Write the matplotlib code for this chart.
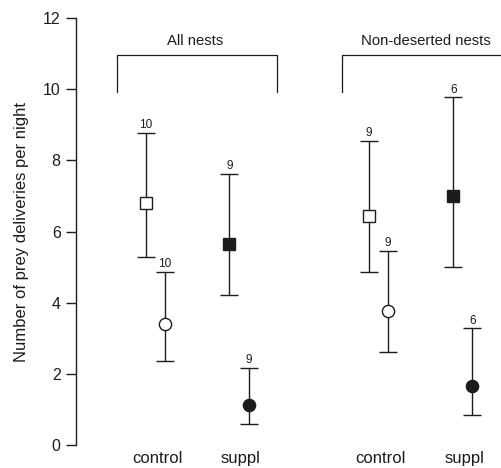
import matplotlib
matplotlib.use("Agg")
import matplotlib.pyplot as plt

plt.rcParams['font.family'] = ['Liberation Sans', 'DejaVu Sans']

# ---- data ----
groups = ["All nests", "Non-deserted nests"]
categories = ["control", "suppl", "control", "suppl"]

# square markers (first measure) per category
sq_mean = [6.81, 5.65, 6.43, 6.99]
sq_upper = [8.78, 7.61, 8.55, 9.77]
sq_lower = [5.27, 4.21, 4.85, 5.01]
sq_n = ["10", "9", "9", "6"]

# circle markers (second measure) per category
ci_mean = [3.40, 1.12, 3.77, 1.66]
ci_upper = [4.87, 2.16, 5.46, 3.28]
ci_lower = [2.36, 0.58, 2.61, 0.84]
ci_n = ["10", "9", "9", "6"]

filled = [False, True, False, True]

yticks = [0, 2, 4, 6, 8, 10, 12]
ylabel = "Number of prey deliveries per night"

# ---- layout ----
W, H = 502, 468
fig = plt.figure(figsize=(W / 100, H / 100), dpi=100)
ax = fig.add_axes([76 / W, 1 - 445 / H, 1 - 76 / W, (445 - 18) / H])

centers = [1.0, 2.0, 3.67, 4.68]
off = 0.114
col = '#1c1c1c'

for i, c in enumerate(centers):
    fc = col if filled[i] else 'white'
    lw_e = 1.0
    # squares
    xs = c - off
    ax.errorbar([xs], [sq_mean[i]],
                yerr=[[sq_mean[i] - sq_lower[i]], [sq_upper[i] - sq_mean[i]]],
                fmt='s', ms=8.2, mfc=fc, mec=col, mew=1.0, ecolor=col,
                elinewidth=lw_e, capsize=6.8, capthick=lw_e, zorder=3, clip_on=False)
    ax.text(xs, sq_upper[i] + 0.05, sq_n[i], ha='center', va='bottom',
            fontsize=8.5, color=col)
    # circles
    xc = c + off
    ax.errorbar([xc], [ci_mean[i]],
                yerr=[[ci_mean[i] - ci_lower[i]], [ci_upper[i] - ci_mean[i]]],
                fmt='o', ms=8.8, mfc=fc, mec=col, mew=1.0, ecolor=col,
                elinewidth=lw_e, capsize=6.8, capthick=lw_e, zorder=3, clip_on=False)
    ax.text(xc, ci_upper[i] + 0.05, ci_n[i], ha='center', va='bottom',
            fontsize=8.5, color=col)

# group brackets
br_top, br_bot = 10.95, 9.92
brackets = [(0.54, 2.455), (3.237, 5.5)]
label_x = [1.48, 4.24]
for (x0, x1), g, lx in zip(brackets, groups, label_x):
    ax.plot([x0, x0, x1, x1], [br_bot, br_top, br_top, br_bot], color=col, lw=0.9,
            clip_on=True)
    ax.text(lx, br_top + 0.2, g, ha='center', va='bottom', fontsize=10.7, color=col)

ax.set_ylim(0, 12)
ax.set_xlim(0.048, 5.15)
ax.set_yticks(yticks)
ax.set_yticklabels([str(v) for v in yticks], fontsize=11.5, color=col)
ax.tick_params(axis='y', length=7, width=1.0, pad=4, color=col)
ax.set_xticks([c + 0.02 for c in centers])
ax.set_xticklabels(categories, fontsize=12, color=col)
ax.tick_params(axis='x', length=0, pad=4)
for s in ['top', 'right', 'bottom']:
    ax.spines[s].set_visible(False)
ax.spines['left'].set_linewidth(1.0)
ax.spines['left'].set_color(col)
ax.set_ylabel(ylabel, fontsize=12, color=col, labelpad=10)

fig.savefig("out.png", dpi=100)
